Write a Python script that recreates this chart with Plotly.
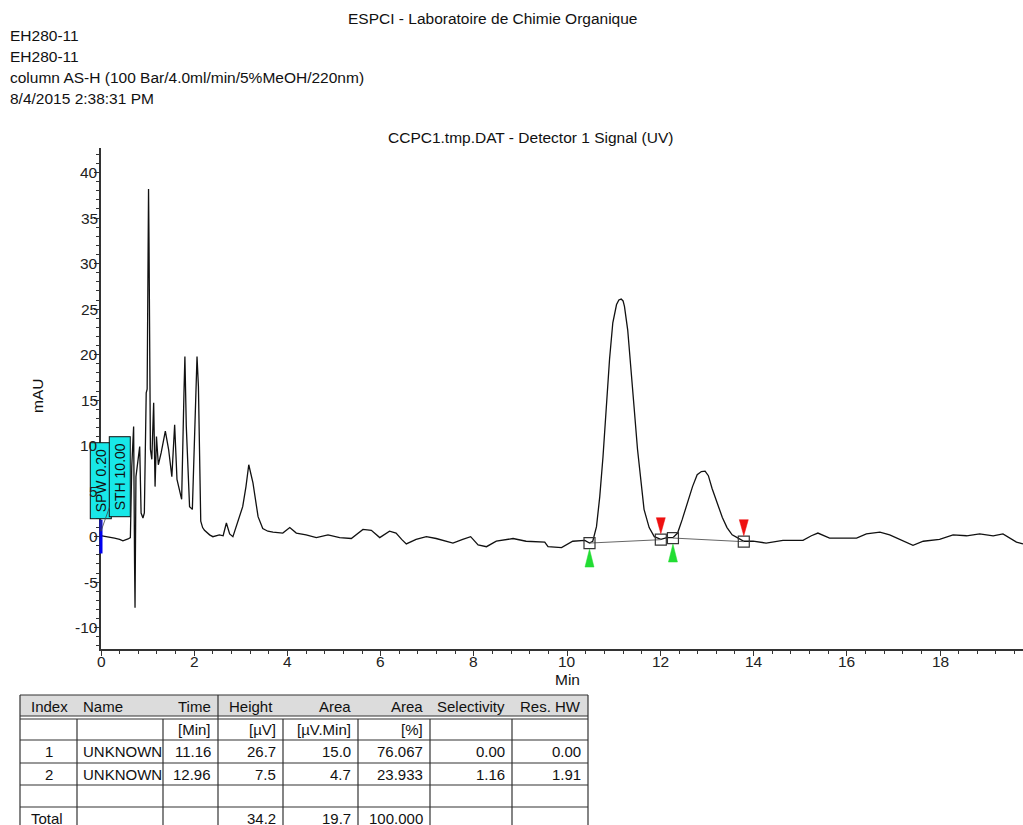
import plotly.graph_objects as go

# ---------------- data ----------------
time_min = [0.02, 0.15, 0.29, 0.40, 0.47, 0.58, 0.63, 0.66, 0.70, 0.72, 0.73, 0.75, 0.79, 0.83, 0.86,
            0.90, 0.93, 0.97, 0.99, 1.02, 1.03, 1.06, 1.09, 1.13, 1.16, 1.19, 1.23, 1.29, 1.38, 1.45,
            1.52, 1.58, 1.63, 1.73, 1.78, 1.80, 1.83, 1.90, 1.96, 2.01, 2.06, 2.09, 2.14, 2.18, 2.22,
            2.33, 2.40, 2.54, 2.62, 2.69, 2.76, 2.83, 2.97, 3.04, 3.11, 3.17, 3.26, 3.37, 3.47, 3.58,
            3.69, 3.90, 4.05, 4.19, 4.40, 4.62, 4.87, 5.12, 5.37, 5.50, 5.62, 5.80, 5.98, 6.19, 6.33,
            6.45, 6.55, 6.76, 6.98, 7.19, 7.55, 7.76, 7.93, 8.09, 8.27, 8.48, 8.84, 9.12, 9.52, 9.59,
            9.88, 10.12, 10.38, 10.48, 10.55, 10.63, 10.70, 10.77, 10.84, 10.91, 10.98, 11.06, 11.11,
            11.16, 11.20, 11.23, 11.30, 11.37, 11.44, 11.51, 11.58, 11.65, 11.76, 11.87, 12.01, 12.14,
            12.27, 12.37, 12.47, 12.58, 12.69, 12.79, 12.88, 12.96, 13.03, 13.11, 13.22, 13.33, 13.43,
            13.54, 13.65, 13.79, 13.99, 14.27, 14.63, 15.06, 15.24, 15.38, 15.63, 15.92, 16.21, 16.42,
            16.71, 16.92, 17.21, 17.42, 17.64, 17.99, 18.28, 18.57, 18.85, 19.14, 19.35, 19.50, 19.64,
            19.78]
signal_mau = [0.1, 0.0, -0.15, -0.3, -0.45, -0.25, -0.1, 7.7, 12.1, -2.9, -7.8, 6.6, 8.5, 9.9, 2.6,
              2.05, 2.6, 15.8, 16.2, 38.2, 32.3, 9.6, 8.5, 14.7, 5.5, 11.0, 7.9, 9.2, 11.6, 9.6,
              6.6, 12.3, 6.3, 4.1, 15.8, 19.8, 12.1, 3.3, 3.0, 12.1, 19.8, 16.5, 1.7, 1.0, 0.7,
              0.2, 0.0, 0.2, 0.1, 1.5, 0.3, 0.0, 2.1, 3.3, 5.5, 7.9, 5.9, 2.2, 0.9, 0.6,
              0.5, 0.4, 1.0, 0.4, 0.2, -0.1, 0.2, -0.1, -0.2, 0.3, 0.8, 0.7, -0.1, 0.6, 0.4,
              -0.3, -0.8, -0.3, 0.0, -0.2, -0.7, -0.3, 0.0, -0.9, -1.1, -0.5, -0.2, -0.5, -0.6, -1.1,
              -1.2, -0.5, -0.4, -0.7, -0.5, 1.1, 4.4, 8.8, 14.3, 19.5, 23.5, 25.5, 26.0,
              26.1, 25.9, 25.3, 22.7, 18.7, 14.0, 9.6, 5.9, 3.0, 1.0, 0.0, -0.3, -0.1,
              -0.1, 0.4, 1.9, 3.7, 5.5, 6.8, 7.15, 7.2, 6.7, 5.3, 3.7, 2.1, 1.0,
              0.2, -0.1, -0.5, -0.5, -0.7, -0.4, -0.4, 0.1, 0.4, -0.15, -0.15, -0.15, 0.3,
              0.5, 0.2, -0.5, -0.95, -0.5, -0.3, 0.2, 0.1, 0.3, 0.1, 0.3, -0.15, -0.6,
              -0.8]

# integration events (peak start / end and baseline levels)
peak_start = [10.48, 12.27]
peak_start_level = [-0.7, -0.15]
peak_end = [12.01, 13.79]
peak_end_level = [-0.33, -0.55]

# time-event marker
event_time = [0.0]
event_labels = ["SPW 0.20", "STH 10.00"]

# header texts
lab_title = "ESPCI - Laboratoire de Chimie Organique"
header_lines = ["EH280-11", "EH280-11", "column AS-H (100 Bar/4.0ml/min/5%MeOH/220nm)", "8/4/2015 2:38:31 PM"]
plot_title = "CCPC1.tmp.DAT - Detector 1 Signal (UV)"

x_ticks = [0, 2, 4, 6, 8, 10, 12, 14, 16, 18]
y_ticks = [-10, -5, 0, 5, 10, 15, 20, 25, 30, 35, 40]

# results table
table_header = ["Index", "Name", "Time", "Height", "Area", "Area", "Selectivity", "Res. HW"]
table_units = ["", "", "[Min]", "[µV]", "[µV.Min]", "[%]", "", ""]
peak_index = ["1", "2"]
peak_name = ["UNKNOWN", "UNKNOWN"]
ret_time = [11.16, 12.96]
peak_height = [26.7, 7.5]
peak_area = [15.0, 4.7]
area_pct = [76.067, 23.933]
selectivity = [0.00, 1.16]
res_hw = [0.00, 1.91]
total_height = 34.2
total_area = 19.7
total_pct = 100.000

# ---------------- layout geometry ----------------
W, H = 1023, 825
ML, MR, MT, MB = 101, 0, 148, 176
PW, PH = W - ML - MR, H - MT - MB
X_RANGE = [0, 19.78]
Y_RANGE = [-12.34, 42.7]
FONT = "Liberation Sans, Arial, sans-serif"
TXT = "#111111"
FS = 15.5


def px(xp):
    return (xp - ML) / PW


def py(yp):
    return (H - MB - yp) / PH


fig = go.Figure()

# chromatogram
fig.add_trace(go.Scatter(x=time_min, y=signal_mau, mode="lines",
                         line=dict(color="#111111", width=1.3), hoverinfo="skip"))

# baselines
for s, sl, e, el in zip(peak_start, peak_start_level, peak_end, peak_end_level):
    fig.add_trace(go.Scatter(x=[s, e], y=[sl, el], mode="lines",
                             line=dict(color="#666666", width=1), hoverinfo="skip"))

# boxes at start / end
fig.add_trace(go.Scatter(x=peak_start + peak_end, y=peak_start_level + peak_end_level, mode="markers",
                         marker=dict(symbol="square-open", size=11, color="#333333", line=dict(width=1.2)),
                         hoverinfo="skip"))

# triangles (sizes in pixels converted to data units)
xu = (X_RANGE[1] - X_RANGE[0]) / PW
yu = (Y_RANGE[1] - Y_RANGE[0]) / PH
tx, ty = [], []
for s, sl in zip(peak_start, peak_start_level):
    tx += [s, s - 4.5 * xu, s + 4.5 * xu, s, None]
    ty += [sl - 6 * yu, sl - 24 * yu, sl - 24 * yu, sl - 6 * yu, None]
fig.add_trace(go.Scatter(x=tx, y=ty, mode="lines", fill="toself", fillcolor="#22dd33",
                         line=dict(color="#22dd33", width=0.5), hoverinfo="skip"))
rx, ry = [], []
for e, el in zip(peak_end, peak_end_level):
    rx += [e, e - 4.5 * xu, e + 4.5 * xu, e, None]
    ry += [el + 6 * yu, el + 22 * yu, el + 22 * yu, el + 6 * yu, None]
fig.add_trace(go.Scatter(x=rx, y=ry, mode="lines", fill="toself", fillcolor="#ee1111",
                         line=dict(color="#ee1111", width=0.5), hoverinfo="skip"))

# blue event marker
fig.add_trace(go.Scatter(x=event_time, y=[0.0], mode="markers", cliponaxis=False,
                         marker=dict(symbol="line-ns", size=24, line=dict(color="#0000ee", width=3)),
                         hoverinfo="skip"))

annotations = []
# event labels (cyan boxes)
for lab, ax_off, ay_off in zip(event_labels, [0, 19], [-50, -54]):
    annotations.append(dict(x=event_time[0], y=0.6, xref="x", yref="y",
                            text="&nbsp;" + lab + "&nbsp;", textangle=-90,
                            showarrow=True, arrowhead=0, arrowwidth=0.8, arrowcolor="#444444",
                            ax=ax_off, ay=ay_off, bgcolor="#18e8e8", bordercolor="#111111",
                            borderwidth=1, borderpad=2,
                            font=dict(family=FONT, size=14, color=TXT)))

# tick labels
for v in x_ticks:
    annotations.append(dict(x=v, y=py(661), xref="x", yref="paper", text=str(v), showarrow=False,
                            xanchor="center", yanchor="middle",
                            font=dict(family=FONT, size=FS, color="#222222")))
for v in y_ticks:
    annotations.append(dict(x=px(100), y=v, xref="paper", yref="y", text=str(v), showarrow=False,
                            xanchor="right", yanchor="middle",
                            font=dict(family=FONT, size=FS, color="#222222")))

# header
annotations.append(dict(x=px(492), y=py(18), xref="paper", yref="paper", text=lab_title,
                        showarrow=False, xanchor="center", yanchor="middle",
                        font=dict(family=FONT, size=FS, color=TXT)))
for i, line in enumerate(header_lines):
    annotations.append(dict(x=px(8), y=py(35 + 21 * i), xref="paper", yref="paper", text=line,
                            showarrow=False, xanchor="left", yanchor="middle",
                            font=dict(family=FONT, size=FS, color=TXT)))
annotations.append(dict(x=px(530), y=py(137), xref="paper", yref="paper", text=plot_title,
                        showarrow=False, xanchor="center", yanchor="middle",
                        font=dict(family=FONT, size=FS, color=TXT)))
# axis titles
annotations.append(dict(x=px(567), y=py(679), xref="paper", yref="paper", text="Min",
                        showarrow=False, xanchor="center", yanchor="middle",
                        font=dict(family=FONT, size=FS, color=TXT)))
annotations.append(dict(x=px(37), y=py(396), xref="paper", yref="paper", text="mAU", textangle=-90,
                        showarrow=False, xanchor="center", yanchor="middle",
                        font=dict(family=FONT, size=FS, color=TXT)))

# ---------------- table ----------------
shapes = []
col_x = [20, 77, 163, 218, 283, 358, 430, 512, 588]
row_top = 695
hdr_bot1, hdr_bot2 = 716, 719
row_lines = [740, 763, 785, 807, 830]
line_col = "#333333"

shapes.append(dict(type="rect", xref="paper", yref="paper", x0=px(col_x[0]), x1=px(col_x[-1]),
                   y0=py(row_top), y1=py(hdr_bot1), fillcolor="#dcdcdc", line=dict(width=0), layer="below"))
for yy in [row_top, hdr_bot1, hdr_bot2] + row_lines:
    shapes.append(dict(type="line", xref="paper", yref="paper", x0=px(col_x[0]), x1=px(col_x[-1]),
                       y0=py(yy), y1=py(yy), line=dict(color=line_col, width=1.2)))
for i, cx in enumerate(col_x):
    y_from = row_top if i in (0, 3, len(col_x) - 1) else hdr_bot2
    shapes.append(dict(type="line", xref="paper", yref="paper", x0=px(cx), x1=px(cx),
                       y0=py(y_from), y1=py(840), line=dict(color=line_col, width=1.2)))

row_centers = [706, 729.5, 752, 774, 796, 818]


def cell(text, col, row, align):
    if align == "left":
        xx, anc = col_x[col] + (4 if col == 1 else 9), "left"
    elif align == "center":
        xx, anc = (col_x[col] + col_x[col + 1]) / 2, "center"
    else:
        xx, anc = col_x[col + 1] - 5, "right"
    annotations.append(dict(x=px(xx), y=py(row_centers[row]), xref="paper", yref="paper", text=text,
                            showarrow=False, xanchor=anc, yanchor="middle",
                            font=dict(family=FONT, size=15, color=TXT)))


hdr_align = ["left", "left", "right", "left", "right", "right", "center", "center"]
for c, t in enumerate(table_header):
    cell(t, c, 0, hdr_align[c])
for c, t in enumerate(table_units):
    if t:
        cell(t, c, 1, "right")
for r in range(len(peak_index)):
    vals = [peak_index[r], peak_name[r], f"{ret_time[r]:.2f}", f"{peak_height[r]:.1f}",
            f"{peak_area[r]:.1f}", f"{area_pct[r]:.3f}", f"{selectivity[r]:.2f}", f"{res_hw[r]:.2f}"]
    for c, v in enumerate(vals):
        cell(v, c, 2 + r, "center" if c == 0 else ("left" if c == 1 else "right"))
cell("Total", 0, 5, "left")
cell(f"{total_height:.1f}", 3, 5, "right")
cell(f"{total_area:.1f}", 4, 5, "right")
cell(f"{total_pct:.3f}", 5, 5, "right")

axis_common = dict(showgrid=False, zeroline=False, showline=True, linecolor="#333333", linewidth=1.5,
                   ticks="outside", ticklen=5, tickwidth=1, tickcolor="#333333",
                   showticklabels=False, layer="below traces")
fig.update_layout(
    width=W, height=H, autosize=False,
    margin=dict(l=ML, r=MR, t=MT, b=MB, pad=0),
    paper_bgcolor="white", plot_bgcolor="white",
    showlegend=False,
    xaxis=dict(range=X_RANGE, tickvals=x_ticks,
               minor=dict(dtick=0.4, tick0=0, ticks="outside", ticklen=3, tickcolor="#333333"),
               **axis_common),
    yaxis=dict(range=Y_RANGE, tickvals=y_ticks,
               minor=dict(dtick=1, tick0=0, ticks="outside", ticklen=3, tickcolor="#333333"),
               **axis_common),
    annotations=annotations,
    shapes=shapes,
)

fig.write_html("out.html", config={"displayModeBar": False},
               post_script="document.body.style.margin='0px';document.body.style.overflow='hidden';")
